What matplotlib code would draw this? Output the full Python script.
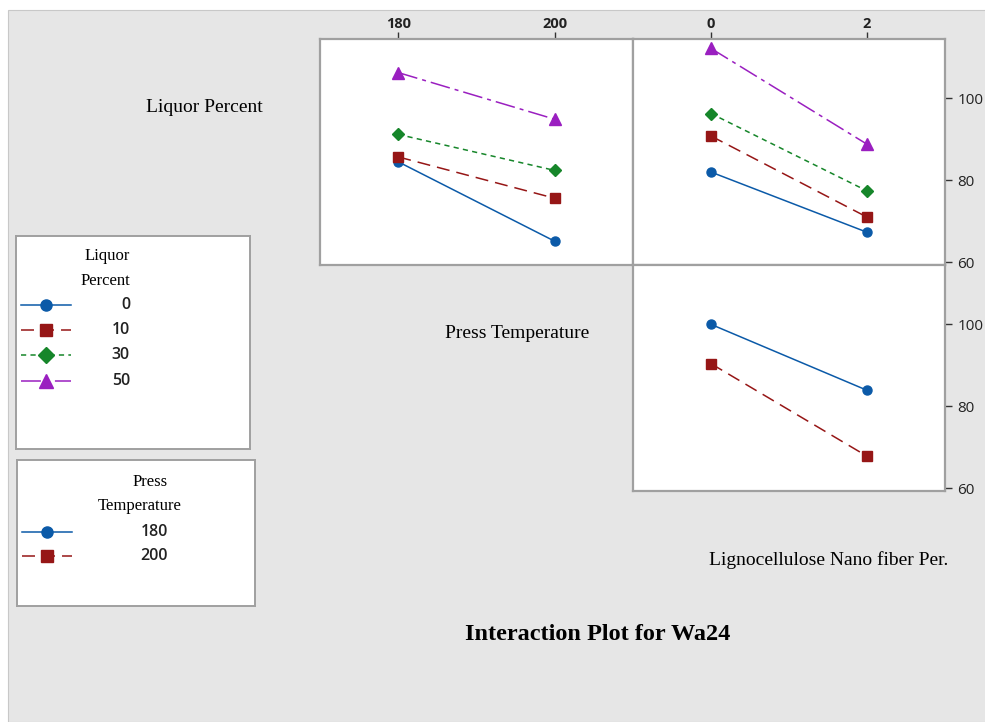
import matplotlib.pyplot as plt
from matplotlib.patches import Rectangle
from matplotlib.lines import Line2D

# Interaction means for Wa24
press_temp = [180, 200]
lnf_percent = [0, 2]
liquor_levels = ["0", "10", "30", "50"]
temp_levels = ["180", "200"]

# Liquor Percent lines vs Press Temperature
liquor_by_temp = {
    "0": [84.5, 65.1],
    "10": [85.7, 75.6],
    "30": [91.2, 82.4],
    "50": [106.3, 94.9],
}
# Liquor Percent lines vs Lignocellulose Nano fiber Per.
liquor_by_lnf = {
    "0": [82.0, 67.3],
    "10": [90.8, 71.0],
    "30": [96.3, 77.4],
    "50": [112.2, 88.8],
}
# Press Temperature lines vs Lignocellulose Nano fiber Per.
temp_by_lnf = {
    "180": [100.0, 83.9],
    "200": [90.4, 67.8],
}

y_ticks = [60, 80, 100]

styles = [
    dict(color="#0b5aa8", marker="o", ms=6.5, ls="-"),
    dict(color="#961616", marker="s", ms=6.5, ls=(0, (8.5, 4.6))),
    dict(color="#16862a", marker="D", ms=6.5, ls=(0, (3.4, 2.8))),
    dict(color="#9a1fc0", marker="^", ms=9, ls=(0, (13, 3.3, 2.6, 3.3))),
]

W, H = 985, 722
fig = plt.figure(figsize=(W / 100, H / 100), dpi=100)
fig.patch.set_facecolor("white")
fig.patches.append(Rectangle((8 / W, 0), 1, 1 - 10 / H, transform=fig.transFigure,
                             facecolor="#e6e6e6", edgecolor="#c8c8c8", lw=0.8, zorder=-10))

serif = "Liberation Serif"
sans = "Open Sans"
spine_col = "#a0a0a0"


def fpos(x0, y0, x1, y1):
    return [x0 / W, 1 - y1 / H, (x1 - x0) / W, (y1 - y0) / H]


def style_axes(ax, xlim, xticks, top_labels, right_labels):
    ax.set_facecolor("white")
    ax.set_xlim(*xlim)
    ax.set_ylim(59.3, 114.5)
    for s in ax.spines.values():
        s.set_color(spine_col)
        s.set_linewidth(1.6)
    ax.tick_params(colors="#333333", length=5, width=1, direction="out")
    ax.tick_params(axis="x", which="both", bottom=False, labelbottom=False,
                   top=top_labels, labeltop=top_labels, pad=0.5)
    ax.tick_params(axis="y", which="both", left=False, labelleft=False,
                   right=right_labels, labelright=right_labels, pad=4)
    ax.set_xticks(xticks)
    ax.set_yticks(y_ticks)
    for lab in ax.get_xticklabels():
        lab.set_fontfamily(sans)
        lab.set_fontweight("bold")
        lab.set_fontsize(10.5)
        lab.set_color("#222222")
    for lab in ax.get_yticklabels():
        lab.set_fontfamily(sans)
        lab.set_fontsize(11)
        lab.set_color("#222222")


def draw_lines(ax, x, series, keys):
    for i, k in enumerate(keys):
        st = styles[i]
        ax.plot(x, series[k], color=st["color"], ls=st["ls"], lw=1.1,
                marker=st["marker"], ms=st["ms"], mec=st["color"])


ax1 = fig.add_axes(fpos(320, 39, 633, 265))
draw_lines(ax1, press_temp, liquor_by_temp, liquor_levels)
style_axes(ax1, (170, 210), press_temp, True, False)

ax2 = fig.add_axes(fpos(633, 39, 945, 265))
draw_lines(ax2, lnf_percent, liquor_by_lnf, liquor_levels)
style_axes(ax2, (-1, 3), lnf_percent, True, True)

ax3 = fig.add_axes(fpos(633, 265, 945, 491))
draw_lines(ax3, lnf_percent, temp_by_lnf, temp_levels)
style_axes(ax3, (-1, 3), lnf_percent, False, True)

# factor names
fig.text(204 / W, 1 - 108 / H, "Liquor Percent", family=serif, fontsize=14,
         ha="center", va="center")
fig.text(517 / W, 1 - 334 / H, "Press Temperature", family=serif, fontsize=14,
         ha="center", va="center")
fig.text(829 / W, 1 - 560 / H, "Lignocellulose Nano fiber Per.", family=serif,
         fontsize=14, ha="center", va="center")
fig.text(598 / W, 1 - 635 / H, "Interaction Plot for Wa24", family=serif,
         fontsize=17.5, fontweight="bold", ha="center", va="center")


# legend boxes
def legend_box(x0, y0, x1, y1, title_lines, labels, label_x, rows_y):
    lax = fig.add_axes(fpos(x0, y0, x1, y1))
    lax.set_xlim(x0, x1)
    lax.set_ylim(y1, y0)
    lax.set_xticks([])
    lax.set_yticks([])
    lax.set_facecolor("white")
    for s in lax.spines.values():
        s.set_color(spine_col)
        s.set_linewidth(1.4)
    for tx, ty, t in title_lines:
        lax.text(tx, ty, t, family=serif, fontsize=12, ha="center", va="center")
    for i, (lab, ry) in enumerate(zip(labels, rows_y)):
        st = styles[i]
        lax.add_line(Line2D([x0 + 5, x0 + 55], [ry, ry], color=st["color"],
                            ls=st["ls"], lw=1.1))
        lax.add_line(Line2D([x0 + 30], [ry], color=st["color"], marker=st["marker"],
                            ms=st["ms"] + 1.5, ls="none"))
        lax.text(label_x, ry, lab, family=sans, fontsize=11.5, fontweight="semibold",
                 ha="right", va="center", color="#222222")


legend_box(16, 236, 250, 449,
           [(107, 256, "Liquor"), (105, 281, "Percent")],
           liquor_levels, 130, [305, 330, 355, 381])
legend_box(17, 460, 255, 606,
           [(150, 482, "Press"), (140, 506, "Temperature")],
           temp_levels, 168, [532, 556])

fig.savefig("out.png", dpi=100)
